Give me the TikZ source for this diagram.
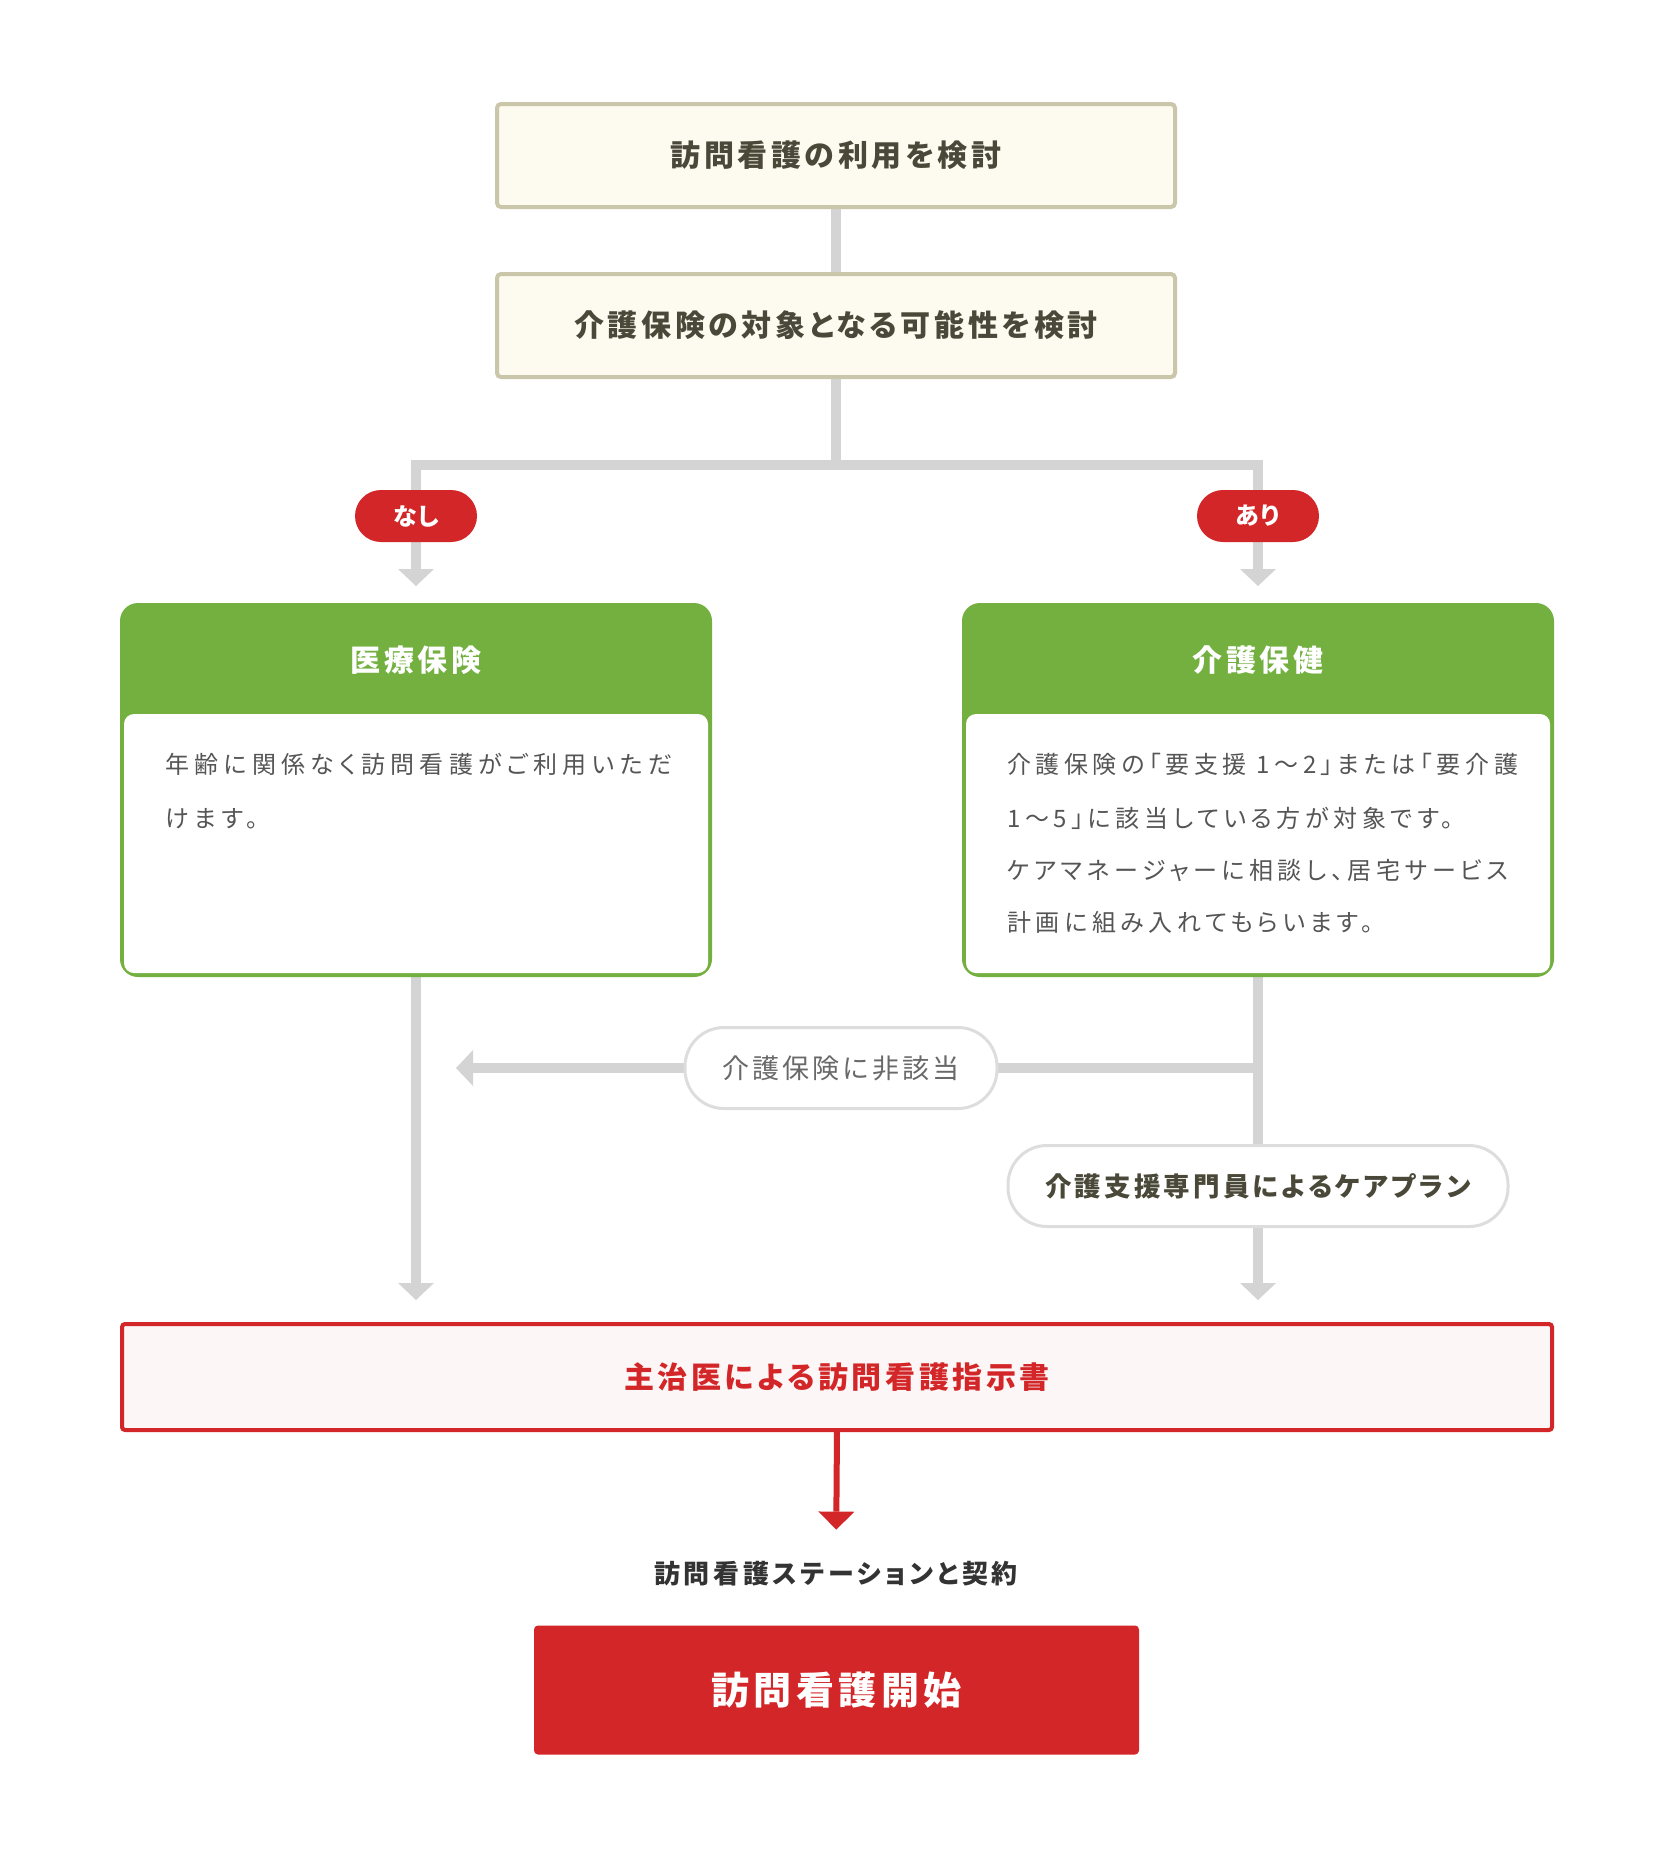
\documentclass[tikz,border=0pt]{standalone}
\usepackage{fontspec}
\newfontfamily\jpt{Noto Sans CJK JP}[RawFeature=+palt,LetterSpace=12]
\newfontfamily\jpct{Noto Sans CJK JP}[RawFeature=+palt,LetterSpace=14]
\newfontfamily\jpbody{Noto Sans CJK JP}[RawFeature=+palt,LetterSpace=22]
\newfontfamily\jpbodyr{Noto Sans CJK JP}[RawFeature=+palt,LetterSpace=19]
\newfontfamily\jppill{Noto Sans CJK JP}[RawFeature=+palt,LetterSpace=6]
\newcommand\myfs[1]{\fontsize{#1}{#1}\selectfont}
\usetikzlibrary{arrows.meta,calc}
\definecolor{boxfill}{RGB}{253,250,239}
\definecolor{boxdraw}{RGB}{201,198,170}
\definecolor{titletext}{RGB}{74,72,56}
\definecolor{conngray}{RGB}{212,212,212}
\definecolor{kgreen}{RGB}{115,176,64}
\definecolor{kred}{RGB}{211,38,40}
\definecolor{redfill}{RGB}{253,246,246}
\definecolor{pillborder}{RGB}{221,221,221}
\definecolor{graytext}{RGB}{105,105,105}
\definecolor{bodytext}{RGB}{85,85,85}
\definecolor{darktext}{RGB}{51,51,51}
\pgfdeclarelayer{bg}
\pgfsetlayers{bg,main}
\tikzset{
  topbox/.style={draw=boxdraw, fill=boxfill, line width=4pt, rounded corners=4pt,
    minimum width=678pt, minimum height=103pt, inner sep=0pt, outer sep=0pt,
    text=titletext, font=\jpt\bfseries\myfs{30}},
  tagpill/.style={fill=kred, rounded corners=26pt, minimum width=122pt, minimum height=52pt,
    inner sep=0pt, outer sep=0pt, text=white, font=\jppill\bfseries\myfs{24}},
  gbox/.style={fill=kgreen, rounded corners=18pt, minimum width=592pt, minimum height=374pt,
    inner sep=0pt, outer sep=0pt},
  ghead/.style={text=white, inner sep=0pt, font=\jpt\bfseries\myfs{30}},
  bodyline/.style={anchor=base west, inner sep=0pt, text=bodytext, font=\jpbody\myfs{24}},
  bodyliner/.style={bodyline, font=\jpbodyr\myfs{24}},
  pill/.style={draw=pillborder, fill=white, line width=3pt, rounded corners=39pt,
    minimum height=81pt, inner sep=0pt, outer sep=0pt},
  redbox/.style={draw=kred, fill=redfill, line width=4pt, rounded corners=3pt,
    minimum width=1430pt, minimum height=106pt, inner sep=0pt, outer sep=0pt,
    text=kred, font=\jpt\bfseries\myfs{30}},
  contract/.style={inner sep=0pt, outer sep=0pt, text=darktext, font=\jpct\bfseries\myfs{26}},
  startbox/.style={fill=kred, rounded corners=4pt, minimum width=605pt, minimum height=129pt,
    inner sep=0pt, outer sep=0pt, text=white, font=\jpt\bfseries\myfs{38}},
  gline/.style={draw=conngray, line width=10pt},
  garrow/.style={gline, -{Triangle[width=36pt,length=17pt,line width=0pt]}},
  rarrow/.style={draw=kred, line width=6pt, -{Triangle[width=36pt,length=18pt,line width=0pt]}}
}
\begin{document}
\begin{tikzpicture}[x=1pt,y=-1pt]
\useasboundingbox (0,0) rectangle (1672,1855);
\begin{pgfonlayer}{bg}
\fill[white] (0,0) rectangle (1672,1855);
\end{pgfonlayer}

\node[topbox] (q1) at (836,155.5) {訪問看護の利用を検討};
\node[topbox] (q2) at (836,325.5) {介護保険の対象となる可能性を検討};

\node[tagpill] (nasi) at (416,516) {なし};
\node[tagpill] (ari) at (1258,516) {あり};

\node[gbox] (med) at (416,790) {};
\node[gbox] (care) at (1258,790) {};
\fill[white, rounded corners=10pt] ($(med.north west)+(4,111)$) rectangle ($(med.south east)+(-4,-4)$);
\fill[white, rounded corners=10pt] ($(care.north west)+(4,111)$) rectangle ($(care.south east)+(-4,-4)$);
\node[ghead] (medh) at (416,660) {医療保険};
\node[ghead] (careh) at (1258,660) {介護保健};

\node[bodyline] (m1) at (165,773) {年齢に関係なく訪問看護がご利用いただ};
\node[bodyline] (m2) at (165,827) {けます。};
\node[bodyliner] (c1) at (1007,773) {介護保険の「要支援 1〜2」または「要介護};
\node[bodyliner] (c2) at (1007,827) {1〜5」に該当している方が対象です。};
\node[bodyliner] (c3) at (1007,879) {ケアマネージャーに相談し、居宅サービス};
\node[bodyliner] (c4) at (1007,931) {計画に組み入れてもらいます。};

\node[pill, minimum width=312pt, text=graytext, font=\jpt\myfs{27}] (hi) at (841,1068) {介護保険に非該当};
\node[pill, minimum width=500pt, text=titletext, font=\jpt\bfseries\myfs{26.5}] (plan) at (1258,1186) {介護支援専門員によるケアプラン};

\node[redbox] (ins) at (837,1377) {主治医による訪問看護指示書};
\node[contract] (ct) at (836,1574) {訪問看護ステーションと契約};
\node[startbox] (st) at (836.5,1690) {訪問看護開始};

\coordinate (split) at (836,465);
\coordinate (hitip) at (456,1068);
\begin{pgfonlayer}{bg}
\draw[gline] (q1.south) -- (q2.north);
\draw[gline] (q2.south) -- (split);
\draw[garrow, shorten >=17pt] (split) -| (med.north);
\draw[garrow, shorten >=17pt] (split) -| (care.north);
\draw[garrow, shorten >=24pt] (med.south) -- (med.south |- ins.north);
\draw[gline] (care.south) -- (plan.north);
\draw[garrow, shorten >=24pt] (plan.south) -- (plan.south |- ins.north);
\draw[gline] (care.south |- hi.east) -- (hi.east);
\draw[garrow] (hi.west) -- (hitip);
\draw[rarrow, shorten >=32pt] (ins.south) -- (ct.north);
\end{pgfonlayer}
\end{tikzpicture}
\end{document}
